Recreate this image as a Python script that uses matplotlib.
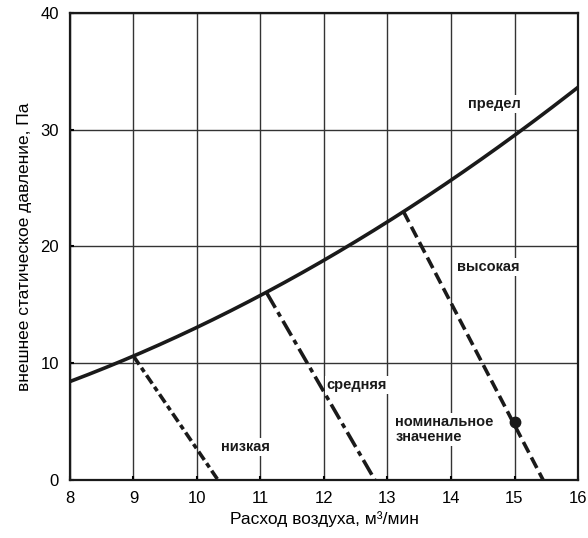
import numpy as np
import matplotlib.pyplot as plt

plt.rcParams['font.family'] = ['Liberation Sans', 'DejaVu Sans']

# limit curve ("предел")
limit_x = [8, 9, 10, 11.1, 12, 13.25, 14, 15, 16]
limit_y = [8.5, 10.6, 13.0, 16.0, 18.8, 23.0, 25.8, 29.6, 33.5]

# fan speed lines: (x_top, y_top) -> (x_bottom, 0)
low_x = [9.0, 10.33]
low_y = [10.6, 0]
mid_x = [11.1, 12.8]
mid_y = [16.0, 0]
high_x = [13.25, 15.45]
high_y = [23.0, 0]

nominal = (15.0, 5.0)

fig = plt.figure(figsize=(5.88, 5.38), dpi=100)
ax = fig.add_axes([0.119, 0.108, 0.864, 0.868])

# smooth curve through the read points
xs = np.linspace(8, 16, 200)
coef = np.polyfit(limit_x, limit_y, 2)
ax.plot(xs, np.polyval(coef, xs), color='#1a1a1a', lw=2.6, zorder=4)

ax.plot(low_x, low_y, color='#1a1a1a', lw=2.6, dashes=(2.8, 1.1, 1.4, 1.1), zorder=3)
ax.plot(mid_x, mid_y, color='#1a1a1a', lw=2.6, dashes=(4.7, 1.4, 1.4, 1.4), zorder=3)
ax.plot(high_x, high_y, color='#1a1a1a', lw=2.6, dashes=(3.3, 1.5), zorder=3)
ax.plot(*nominal, 'o', color='#1a1a1a', ms=7.5, zorder=5)

box = dict(facecolor='white', edgecolor='none', pad=1.5)
txt = dict(fontsize=10.5, fontweight='bold', color='#1a1a1a', bbox=box, zorder=2)
ax.text(14.68, 32.2, 'предел', ha='center', va='center', **txt)
ax.text(14.58, 18.2, 'высокая', ha='center', va='center', **txt)
ax.text(12.52, 8.1, 'средняя', ha='center', va='center', **txt)
ax.text(13.12, 4.3, 'номинальное\nзначение', ha='left', va='center',
        linespacing=1.1, **txt)
ax.text(10.76, 2.8, 'низкая', ha='center', va='center', **txt)

ax.set_xlim(8, 16)
ax.set_ylim(0, 40)
ax.set_xticks(range(8, 17))
ax.set_yticks(range(0, 41, 10))
ax.grid(True, color='#333333', lw=1.0, zorder=1)
ax.set_axisbelow(True)
ax.tick_params(length=3, width=1.5, direction='in', labelsize=12, pad=8)
for s in ax.spines.values():
    s.set_linewidth(1.6)
    s.set_color('#1a1a1a')

ax.set_xlabel('Расход воздуха, м³/мин', fontsize=12.5, labelpad=4)
ax.set_ylabel('внешнее статическое давление, Па', fontsize=12.5, labelpad=6)

plt.savefig('out.png')
